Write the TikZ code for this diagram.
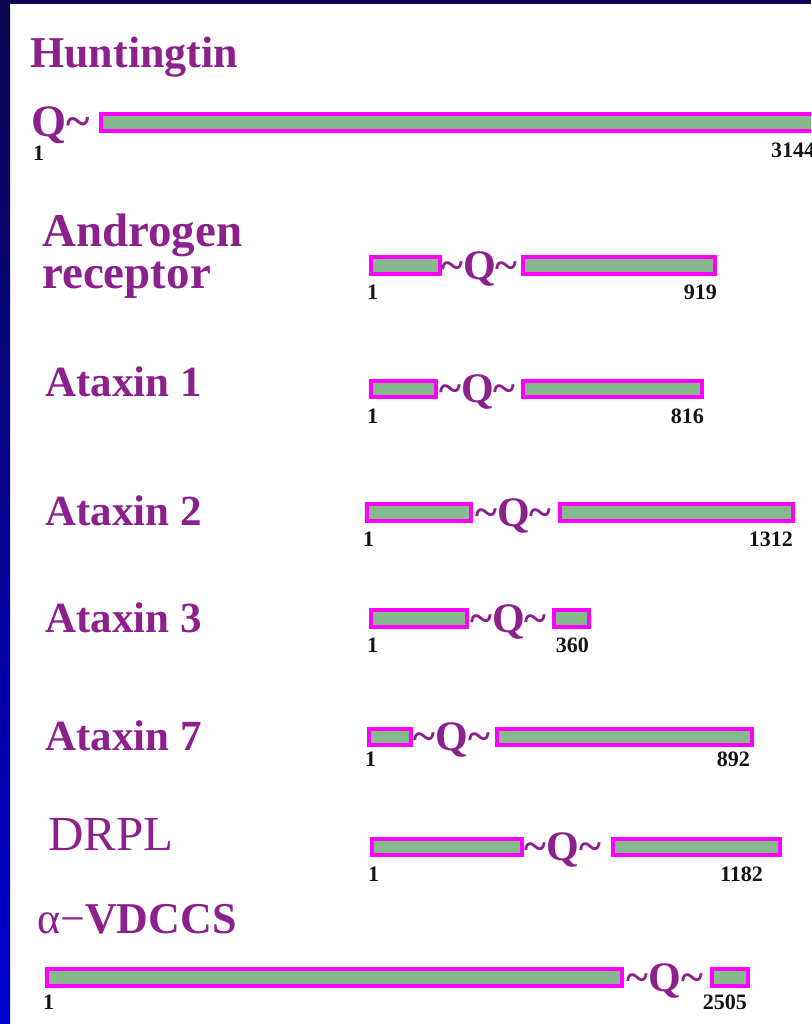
\documentclass[tikz,border=0pt]{standalone}
\usepackage{fontspec}
\setmainfont{Liberation Serif}
\definecolor{ttl}{RGB}{140,32,140}
\definecolor{mag}{RGB}{255,0,255}
\definecolor{grn}{RGB}{134,186,140}
\definecolor{numc}{RGB}{20,20,20}
\definecolor{navy}{RGB}{10,6,80}
\definecolor{brightblue}{RGB}{0,0,210}
\newcommand\protbar[5]{%
  \pgfmathsetmacro\pbw{#4-#2-4}\pgfmathsetmacro\pbh{#5-#3-4}%
  \node[barbox, minimum width=\pbw pt, minimum height=\pbh pt] (#1) at (#2+2,#3+2) {};}
\begin{document}
\begin{tikzpicture}[x=1pt,y=-1pt,
  titletext/.style={text=ttl, font=\bfseries\fontsize{43}{43}\selectfont, anchor=base west, inner sep=0pt},
  numtext/.style={text=numc, font=\bfseries\fontsize{22}{22}\selectfont, inner sep=0pt},
  barbox/.style={draw=mag, fill=grn, line width=4pt, inner sep=0pt, anchor=north west},
  qtext/.style={text=ttl, font=\bfseries\fontsize{42}{42}\selectfont, inner sep=0pt, anchor=base}]
\useasboundingbox (0,0) rectangle (811,1024);
\clip (0,0) rectangle (811,1024);
\fill[white] (0,0) rectangle (811,1024);
\shade[top color=navy, bottom color=brightblue] (0,0) rectangle (10,1024);
\fill[navy] (0,0) rectangle (811,4);

% titles
\node[titletext, font=\bfseries\fontsize{44}{44}\selectfont] (thtt) at (30,68) {Huntingtin};
\node[titletext, font=\bfseries\fontsize{47}{47}\selectfont] (tar1) at (42,247) {Androgen};
\node[titletext, font=\bfseries\fontsize{47}{47}\selectfont] (tar2) at (42,288) {receptor};
\node[titletext] (ta1) at (45,396) {Ataxin 1};
\node[titletext] (ta2) at (45,525) {Ataxin 2};
\node[titletext] (ta3) at (45,632) {Ataxin 3};
\node[titletext] (ta7) at (45,750) {Ataxin 7};
\node[titletext, font=\fontsize{49}{49}\selectfont] (tdr) at (48,850) {DRPL};
\node[titletext, font=\fontsize{44}{44}\selectfont] (tvd) at (37,933) {α−\bfseries VDCCS};

% Huntingtin
\node[qtext, anchor=base west, font=\bfseries\fontsize{45}{45}\selectfont] (htq) at (31,137) {Q\char`\~};
\protbar{htb}{97}{110}{830}{131}
\node[numtext, anchor=base west] (htn1) at (33,161) {1};
\node[numtext, anchor=base west] (htn2) at (771,158) {3144};

% Androgen receptor
\protbar{arL}{367}{253}{440}{274}
\protbar{arR}{519}{253}{715}{274}
\node[qtext] (arq) at (479.5,279) {\char`\~Q\char`\~};
\node[numtext, anchor=base west] (arn1) at (367,299) {1};
\node[numtext, anchor=base east] (arn2) at (717,299) {919};

% Ataxin 1
\protbar{a1L}{367}{377}{436}{397}
\protbar{a1R}{519}{377}{702}{397}
\node[qtext] (a1q) at (477.5,402.5) {\char`\~Q\char`\~};
\node[numtext, anchor=base west] (a1n1) at (367,423) {1};
\node[numtext, anchor=base east] (a1n2) at (704,423) {816};

% Ataxin 2
\protbar{a2L}{363}{500}{471}{521}
\protbar{a2R}{556}{500}{793}{521}
\node[qtext] (a2q) at (513.5,526) {\char`\~Q\char`\~};
\node[numtext, anchor=base west] (a2n1) at (363,546) {1};
\node[numtext, anchor=base east] (a2n2) at (793,546) {1312};

% Ataxin 3
\protbar{a3L}{367}{606}{467}{627}
\protbar{a3R}{550}{606}{589}{627}
\node[qtext] (a3q) at (508.5,632) {\char`\~Q\char`\~};
\node[numtext, anchor=base west] (a3n1) at (367,652) {1};
\node[numtext, anchor=base east] (a3n2) at (589,652) {360};

% Ataxin 7
\protbar{a7L}{365}{725}{411}{745}
\protbar{a7R}{493}{725}{752}{745}
\node[qtext] (a7q) at (452,750.5) {\char`\~Q\char`\~};
\node[numtext, anchor=base west] (a7n1) at (365,766) {1};
\node[numtext, anchor=base east] (a7n2) at (750,766) {892};

% DRPL
\protbar{drL}{368}{835}{522}{855}
\protbar{drR}{609}{835}{780}{855}
\node[qtext] (drq) at (563,860.5) {\char`\~Q\char`\~};
\node[numtext, anchor=base west] (drn1) at (368,881) {1};
\node[numtext, anchor=base east] (drn2) at (763,881) {1182};

% alpha-VDCCS
\protbar{vdL}{43}{965}{622}{986}
\protbar{vdR}{708}{965}{748}{986}
\node[qtext] (vdq) at (665,991) {\char`\~Q\char`\~};
\node[numtext, anchor=base west] (vdn1) at (43,1009) {1};
\node[numtext, anchor=base east] (vdn2) at (747,1009) {2505};
\end{tikzpicture}
\end{document}
